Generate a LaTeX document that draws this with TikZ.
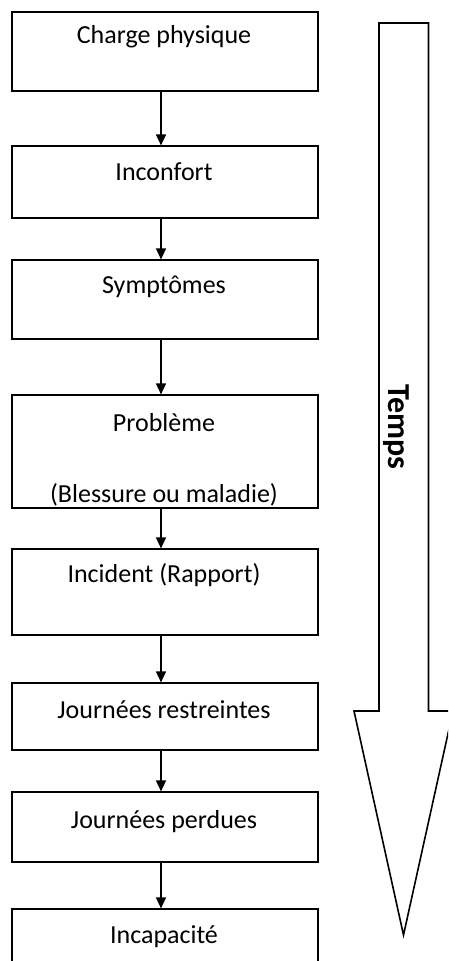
\documentclass[tikz,border=0pt]{standalone}
\usepackage{fontspec}
\setmainfont{Carlito}
\usetikzlibrary{arrows.meta,calc}
\begin{document}
\begin{tikzpicture}[x=1pt,y=-1pt,
  box/.style={draw=black,line width=1.2pt,rectangle,minimum width=306pt,inner sep=0pt},
  lbl/.style={inner sep=0pt,font=\fontsize{26}{30}\selectfont},
  conn/.style={draw=black,line width=1.6pt,-{Triangle[width=10pt,length=11pt]}},
  bigarrow/.style={draw=black,line width=1.6pt,line join=miter}
]
\useasboundingbox (0,0) rectangle (448,961);
\clip (0,0) rectangle (448,961);
\fill[white] (0,0) rectangle (448,961);

\node[box,minimum height=79pt]  (b1) at (165,51.5)  {};
\node[box,minimum height=72pt]  (b2) at (165,182)   {};
\node[box,minimum height=79pt]  (b3) at (165,299.5) {};
\node[box,minimum height=113pt] (b4) at (165,451.5) {};
\node[box,minimum height=86pt]  (b5) at (165,592)   {};
\node[box,minimum height=67pt]  (b6) at (165,716.5) {};
\node[box,minimum height=70pt]  (b7) at (165,827)   {};
\node[box,minimum height=70pt]  (b8) at (165,944)   {};

\node[lbl] (t1)  at (164,37)  {Charge physique};
\node[lbl] (t2)  at (164,172) {Inconfort};
\node[lbl] (t3)  at (164,287) {Symptômes};
\node[lbl] (t4a) at (164,423) {Problème};
\node[lbl] (t4b) at (164,495) {(Blessure ou maladie)};
\node[lbl] (t5)  at (164,575) {Incident (Rapport)};
\node[lbl] (t6)  at (164,710) {Journées restreintes};
\node[lbl] (t7)  at (164,822) {Journées perdues};
\node[lbl] (t8)  at (164,937) {Incapacité};

\coordinate (ax) at (161,0);
\draw[conn] (b1.south -| ax) -- (b2.north -| ax);
\draw[conn] (b2.south -| ax) -- (b3.north -| ax);
\draw[conn] (b3.south -| ax) -- (b4.north -| ax);
\draw[conn] (b4.south -| ax) -- (b5.north -| ax);
\draw[conn] (b5.south -| ax) -- (b6.north -| ax);
\draw[conn] (b6.south -| ax) -- (b7.north -| ax);
\draw[conn] (b7.south -| ax) -- (b8.north -| ax);

\draw[bigarrow] (379,23) -- (428.5,23) -- (428.5,711) -- (453,711) -- (403.5,935)
  -- (354,711) -- (379,711) -- cycle;
\node[inner sep=0pt,rotate=-90,font=\bfseries\fontsize{32}{36}\selectfont] (temps) at (396,427) {Temps};
\end{tikzpicture}
\end{document}
